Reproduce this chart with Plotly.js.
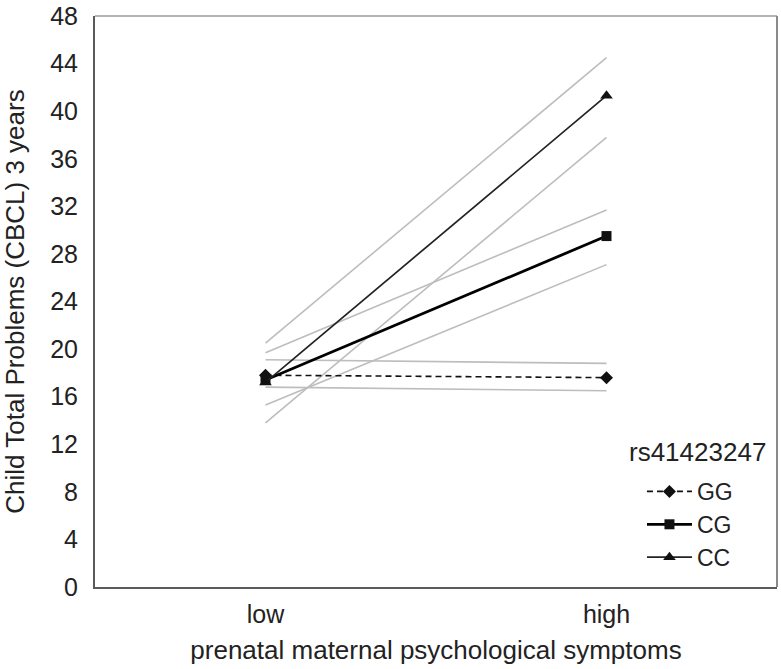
<!DOCTYPE html>
<html>
<head>
<meta charset="utf-8">
<script src="https://cdn.plot.ly/plotly-3.0.1.min.js"></script>
<style>html,body{margin:0;padding:0;background:#fff;} #chart{width:781px;height:669px;}</style>
</head>
<body>
<div id="chart"></div>
<script>
const categories = ['low', 'high'];
const seriesNames = ['GG', 'CG', 'CC'];
const legendTitle = 'rs41423247';
const gg = [17.8, 17.6];
const cg = [17.4, 29.5];
const cc = [17.2, 41.3];
const ggUpper = [19.1, 18.8];
const ggLower = [16.8, 16.5];
const cgUpper = [19.7, 31.7];
const cgLower = [15.3, 27.1];
const ccUpper = [20.5, 44.5];
const ccLower = [13.8, 37.8];
const yTicks = [0, 4, 8, 12, 16, 20, 24, 28, 32, 36, 40, 44, 48];

const FONT = 'Liberation Sans, Arial, sans-serif';
const gray = '#bdbdbd';

function ci(y) {
  return {x: categories, y: y, type: 'scatter', mode: 'lines',
    line: {color: gray, width: 1.6}, showlegend: false, hoverinfo: 'skip'};
}

const traces = [
  ci(ggUpper), ci(ggLower), ci(cgUpper), ci(cgLower), ci(ccUpper), ci(ccLower),
  {x: categories, y: gg, name: seriesNames[0], type: 'scatter', mode: 'lines+markers',
    line: {color: '#111', width: 1.6, dash: '6px,4px'},
    marker: {symbol: 'diamond', size: 10, color: '#111'}},
  {x: categories, y: cg, name: seriesNames[1], type: 'scatter', mode: 'lines+markers',
    line: {color: '#000', width: 2.8},
    marker: {symbol: 'square', size: 10, color: '#111'}},
  {x: categories, y: cc, name: seriesNames[2], type: 'scatter', mode: 'lines+markers',
    line: {color: '#222', width: 1.7},
    marker: {symbol: 'triangle-up', size: 11, color: '#111'}}
];

const layout = {
  width: 781, height: 669,
  margin: {l: 95, r: 4, t: 16, b: 82},
  paper_bgcolor: '#fff', plot_bgcolor: '#fff',
  font: {family: FONT, size: 25, color: '#222'},
  xaxis: {
    type: 'category', range: [-0.5, 1.5], categoryorder: 'array', categoryarray: categories,
    showgrid: false, zeroline: false, showline: true, linecolor: '#5a5a5a', linewidth: 2,
    ticks: '', ticklabelstandoff: 4,
    tickfont: {family: FONT, size: 25, color: '#222'},
    title: {text: 'prenatal maternal psychological symptoms', font: {family: FONT, size: 26, color: '#222'}, standoff: 14},
    automargin: false
  },
  yaxis: {
    range: [0, 48], tickmode: 'array', tickvals: yTicks, ticktext: yTicks.map(String),
    showgrid: false, zeroline: false, showline: true, linecolor: '#5a5a5a', linewidth: 2,
    ticks: '', ticklabelstandoff: 10,
    tickfont: {family: FONT, size: 25, color: '#222'},
    title: {text: 'Child Total Problems (CBCL) 3 years', font: {family: FONT, size: 26, color: '#222'}, standoff: 18},
    automargin: false
  },
  shapes: [
    {type: 'line', xref: 'paper', yref: 'paper', x0: 0, x1: 1, y0: 1, y1: 1, line: {color: '#9a9a9a', width: 1.5}},
    {type: 'line', xref: 'paper', yref: 'paper', x0: 1, x1: 1, y0: 0, y1: 1, line: {color: '#8a8a8a', width: 2}}
  ],
  annotations: [
    {text: legendTitle, xref: 'paper', yref: 'paper', x: 0.987, y: 0.236,
      xanchor: 'right', yanchor: 'middle', showarrow: false,
      font: {family: FONT, size: 26, color: '#222'}}
  ],
  legend: {
    x: 0.802, y: 0.205, xanchor: 'left', yanchor: 'top',
    bgcolor: 'rgba(0,0,0,0)', borderwidth: 0,
    font: {family: FONT, size: 23, color: '#222'},
    itemwidth: 45, traceorder: 'normal', tracegroupgap: 0
  },
  showlegend: true
};

Plotly.newPlot('chart', traces, layout, {displayModeBar: false, staticPlot: true});
</script>
</body>
</html>
